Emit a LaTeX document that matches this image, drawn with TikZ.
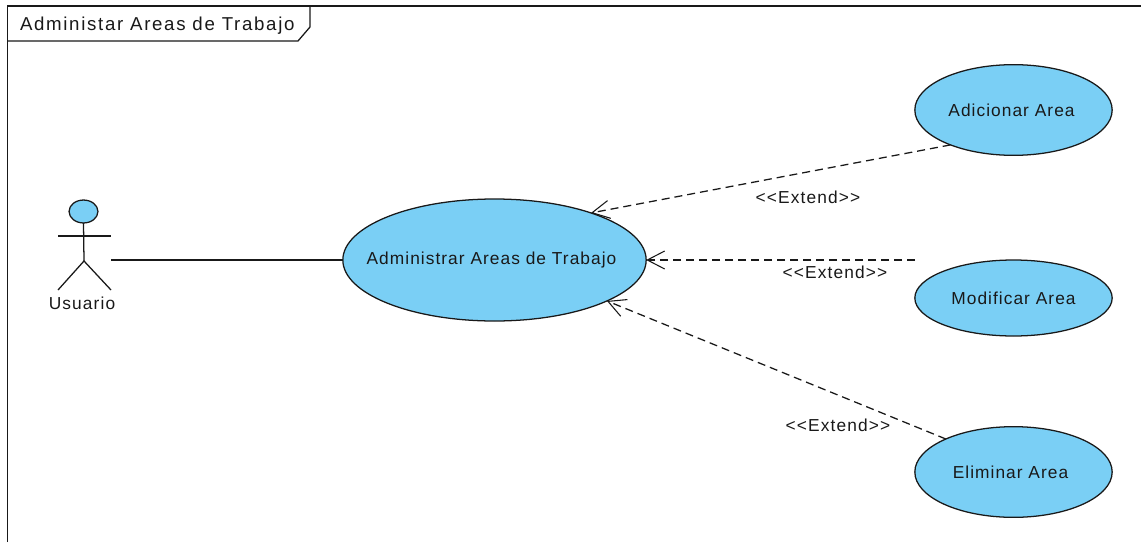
\documentclass[tikz,border=0pt]{standalone}
\usepackage{fontspec}
\setmainfont{Liberation Sans}
\usetikzlibrary{shapes.geometric,arrows.meta}
\definecolor{ucblue}{RGB}{122,207,245}
\definecolor{inkc}{RGB}{25,25,25}
\tikzset{
  x=0.75pt,y=-0.75pt,
  line/.style={draw=inkc,line width=0.95pt},
  usecase/.style={ellipse,draw=inkc,line width=0.95pt,fill=ucblue,inner sep=0pt,outer sep=0pt,text=inkc,font=\fontsize{13}{14}\selectfont\addfontfeature{LetterSpace=6}},
  lbl/.style={inner sep=0pt,outer sep=0pt,text=inkc,font=\fontsize{13}{14}\selectfont\addfontfeature{LetterSpace=6.5}},
  titlelbl/.style={inner sep=0pt,outer sep=0pt,text=inkc,font=\fontsize{14}{15}\selectfont\addfontfeature{LetterSpace=9}},
  extend/.style={line,dash pattern=on 6pt off 3.75pt,-{Straight Barb[length=13pt,width=13.5pt,line width=0.8pt]}}
}
\begin{document}
\begin{tikzpicture}
\useasboundingbox (0,0) rectangle (1141,542);
\fill[white] (0,0) rectangle (1141,542);
% frame
\coordinate (fa) at (7.5,542);
\coordinate (fb) at (7.5,6);
\coordinate (fc) at (1141,6);
\coordinate (t1) at (7.5,41);
\coordinate (t2) at (298,41);
\coordinate (t3) at (310,27);
\coordinate (t4) at (310,6);
\draw[line] (fa) -- (fb) -- (fc);
\draw[line] (t1) -- (t2) -- (t3) -- (t4);
\node[titlelbl,anchor=west] (title) at (20,26) {Administar Areas de Trabajo};
% use cases
\node[usecase,minimum width=227.5pt,minimum height=91.5pt] (main) at (494.5,260) {\makebox[0pt]{\raisebox{-1.5pt}{Administrar Areas de Trabajo}\kern4.5pt}};
\node[usecase,minimum width=148pt,minimum height=68pt] (adic) at (1013.5,110) {Adicionar Area\kern3pt};
\node[usecase,minimum width=148pt,minimum height=57pt] (modi) at (1013.5,298) {Modificar Area};
\node[usecase,minimum width=148pt,minimum height=68pt] (elim) at (1013.5,472) {Eliminar Area\kern4.5pt};
% actor
\node[ellipse,draw=inkc,line width=0.95pt,fill=ucblue,minimum width=21.7pt,minimum height=17.2pt,inner sep=0pt,outer sep=0pt] (head) at (83.5,211.5) {};
\coordinate (hip) at (84,261);
\coordinate (armL) at (58,236);
\coordinate (armR) at (111,236);
\coordinate (footL) at (58,290);
\coordinate (footR) at (111,290);
\coordinate (assoc) at (111,260);
\coordinate (mfree) at (915,260);
\draw[line] (head.south) -- (hip);
\draw[line] (armL) -- (armR);
\draw[line] (footL) -- (hip) -- (footR);
\node[lbl] (usuario) at (82,303) {Usuario};
% connectors
\draw[line] (assoc) -- (main.west);
\draw[extend] (adic.209) -- (main.26);
\draw[extend] (mfree) -- (main.east);
\draw[extend] (elim.154) -- (main.-20.6);
\node[lbl] (e1) at (808,197) {<{}<Extend>{}>};
\node[lbl] (e2) at (835,272) {<{}<Extend>{}>};
\node[lbl] (e3) at (838,425) {<{}<Extend>{}>};
\end{tikzpicture}
\end{document}
